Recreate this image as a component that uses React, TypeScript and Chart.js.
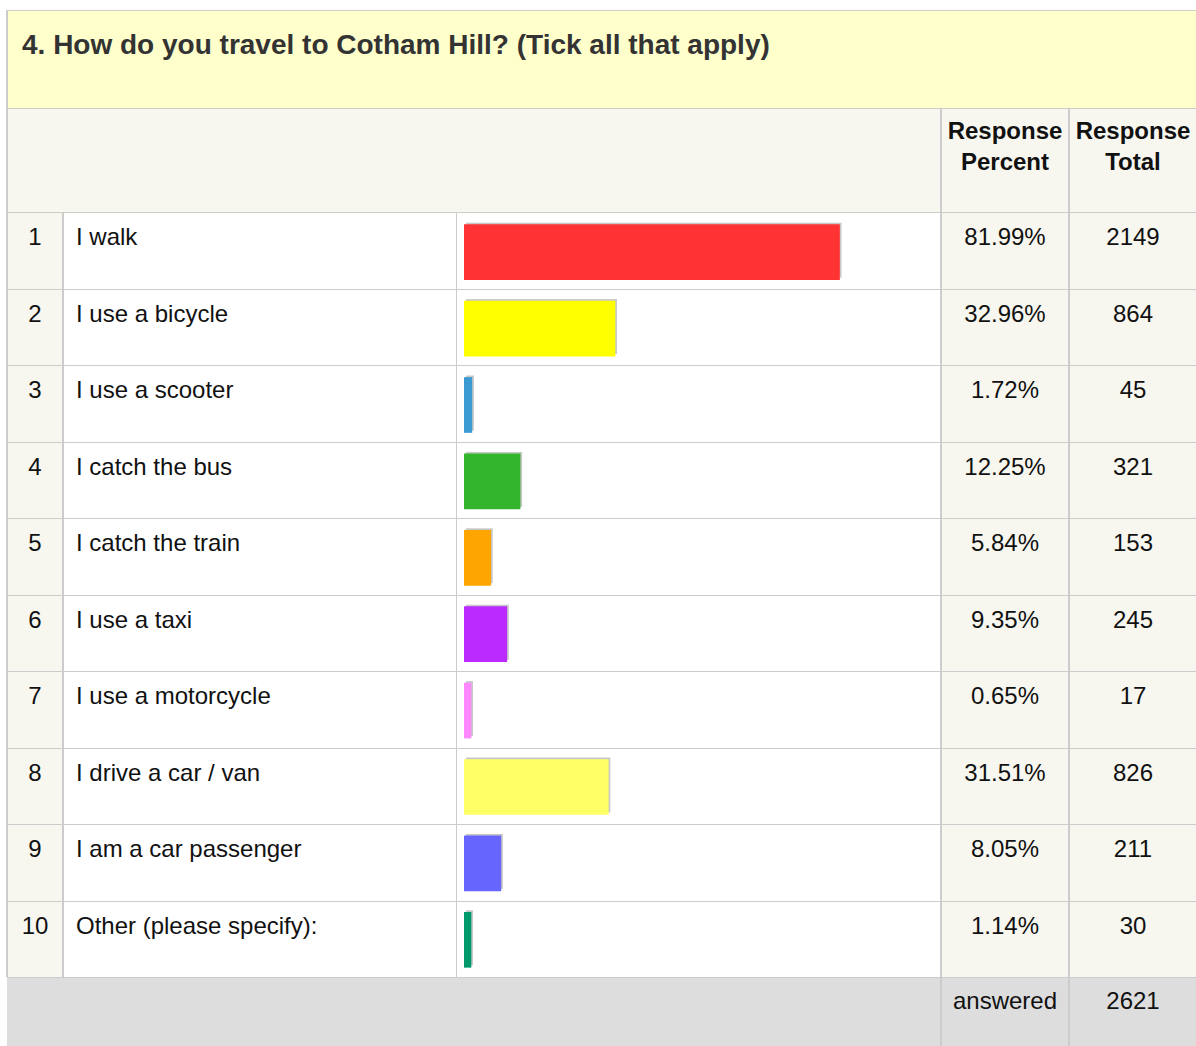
import React, { useEffect, useRef } from "react";
import { Chart, registerables } from "chart.js";

Chart.register(...registerables);

const titleText = "4. How do you travel to Cotham Hill? (Tick all that apply)";
const headerPercent = ["Response", "Percent"];
const headerTotal = ["Response", "Total"];
const categories = [
  "I walk",
  "I use a bicycle",
  "I use a scooter",
  "I catch the bus",
  "I catch the train",
  "I use a taxi",
  "I use a motorcycle",
  "I drive a car / van",
  "I am a car passenger",
  "Other (please specify):",
];
const responsePercent = [81.99, 32.96, 1.72, 12.25, 5.84, 9.35, 0.65, 31.51, 8.05, 1.14];
const responseTotal = [2149, 864, 45, 321, 153, 245, 17, 826, 211, 30];
const answeredLabel = "answered";
const answeredTotal = 2621;
const barColors = [
  "#FF3333",
  "#FFFF00",
  "#3A9BD2",
  "#33B52D",
  "#FFA500",
  "#BB2BFF",
  "#FF88FF",
  "#FFFF66",
  "#6666FF",
  "#00996B",
];

const FONT = '"Liberation Sans", Arial, Helvetica, sans-serif';
const LINE = "#CCCCCC";
const OFF = "#F7F7F0";

const ROW_TOP = 212;
const ROW_H = 76.5;
const rowTop = (i: number) => Math.round(ROW_TOP + i * ROW_H);
const TABLE_BOTTOM = rowTop(10);

const shadowPlugin = {
  id: "barShadow",
  beforeDatasetsDraw(chart: any) {
    const ctx = chart.ctx;
    const meta = chart.getDatasetMeta(0);
    ctx.save();
    ctx.fillStyle = "#C8C8C8";
    meta.data.forEach((el: any) => {
      const p = el.getProps(["x", "y", "base", "height"], true);
      ctx.fillRect(p.base + 2, p.y - p.height / 2 - 2, p.x - p.base, p.height);
    });
    ctx.restore();
  },
};

function Box(props: { l: number; t: number; w: number; h: number; bg: string }) {
  return (
    <div
      style={{
        position: "absolute",
        left: props.l,
        top: props.t,
        width: props.w,
        height: props.h,
        background: props.bg,
      }}
    />
  );
}

function Txt(props: {
  l: number;
  t: number;
  w?: number;
  align?: "left" | "center";
  bold?: boolean;
  size?: number;
  color?: string;
  lh?: string;
  children: React.ReactNode;
}) {
  return (
    <div
      style={{
        position: "absolute",
        left: props.l,
        top: props.t,
        width: props.w,
        textAlign: props.align || "left",
        fontFamily: FONT,
        fontWeight: props.bold ? "bold" : "normal",
        fontSize: props.size || 24,
        color: props.color || "#111",
        lineHeight: props.lh || "normal",
        whiteSpace: "nowrap",
      }}
    >
      {props.children}
    </div>
  );
}

export default function App() {
  const canvasRef = useRef<HTMLCanvasElement | null>(null);

  useEffect(() => {
    if (!canvasRef.current) return;
    const chart = new Chart(canvasRef.current, {
      type: "bar",
      data: {
        labels: categories,
        datasets: [
          {
            data: responsePercent,
            backgroundColor: barColors,
            borderWidth: 0,
            barThickness: 55,
            minBarLength: 7,
          },
        ],
      },
      options: {
        indexAxis: "y",
        responsive: false,
        animation: false,
        layout: { padding: { left: 7, right: 18, top: 0, bottom: 0 } },
        scales: {
          x: { display: false, min: 0, max: 100 },
          y: { display: false },
        },
        plugins: {
          legend: { display: false },
          tooltip: { enabled: false },
        },
      },
      plugins: [shadowPlugin],
    });
    return () => chart.destroy();
  }, []);

  const W = 1196;
  const H = 1046;

  return (
    <div
      style={{
        position: "fixed",
        left: 0,
        top: 0,
        width: W,
        height: H,
        overflow: "hidden",
        background: "#FFFFFF",
      }}
    >
      {/* title */}
      <Box l={6} t={10} w={W} h={1} bg={LINE} />
      <Box l={8} t={11} w={W} h={97} bg="#FFFFCC" />
      <Box l={8} t={108} w={W} h={1} bg={LINE} />
      {/* header */}
      <Box l={8} t={109} w={W} h={103} bg={OFF} />
      {/* rows background */}
      <Box l={8} t={ROW_TOP} w={54} h={TABLE_BOTTOM - ROW_TOP} bg={OFF} />
      <Box l={64} t={ROW_TOP} w={876} h={TABLE_BOTTOM - ROW_TOP} bg="#FFFFFF" />
      <Box l={942} t={ROW_TOP} w={W} h={TABLE_BOTTOM - ROW_TOP} bg={OFF} />
      {/* row lines */}
      {categories.map((_, i) => (
        <Box key={"hl" + i} l={8} t={rowTop(i)} w={W} h={1} bg={LINE} />
      ))}
      {/* footer */}
      <Box l={7} t={TABLE_BOTTOM} w={W} h={H} bg="#DDDDDD" />
      <Box l={7} t={TABLE_BOTTOM} w={W} h={1} bg={LINE} />
      {/* vertical lines */}
      <Box l={6} t={10} w={2} h={TABLE_BOTTOM - 10} bg={LINE} />
      <Box l={62} t={ROW_TOP} w={2} h={TABLE_BOTTOM - ROW_TOP} bg={LINE} />
      <Box l={456} t={ROW_TOP} w={1} h={TABLE_BOTTOM - ROW_TOP} bg={LINE} />
      <Box l={940} t={109} w={2} h={H} bg={LINE} />
      <Box l={1068} t={109} w={2} h={H} bg={LINE} />

      {/* title text */}
      <Txt l={22} t={29} bold size={28} color="#333333">
        {titleText}
      </Txt>

      {/* header texts */}
      <Txt l={942} t={115} w={126} align="center" bold size={24} lh="31px" color="#111">
        {headerPercent[0]}
        <br />
        {headerPercent[1]}
      </Txt>
      <Txt l={1070} t={115} w={126} align="center" bold size={24} lh="31px" color="#111">
        {headerTotal[0]}
        <br />
        {headerTotal[1]}
      </Txt>

      {/* row texts */}
      {categories.map((c, i) => (
        <React.Fragment key={"r" + i}>
          <Txt l={8} t={rowTop(i) + 11} w={54} align="center">
            {String(i + 1)}
          </Txt>
          <Txt l={76} t={rowTop(i) + 11}>
            {c}
          </Txt>
          <Txt l={942} t={rowTop(i) + 11} w={126} align="center">
            {responsePercent[i].toFixed(2) + "%"}
          </Txt>
          <Txt l={1070} t={rowTop(i) + 11} w={126} align="center">
            {String(responseTotal[i])}
          </Txt>
        </React.Fragment>
      ))}

      {/* footer texts */}
      <Txt l={942} t={TABLE_BOTTOM + 10} w={126} align="center">
        {answeredLabel}
      </Txt>
      <Txt l={1070} t={TABLE_BOTTOM + 10} w={126} align="center">
        {String(answeredTotal)}
      </Txt>

      {/* bars */}
      <canvas
        ref={canvasRef}
        width={483}
        height={764}
        style={{ position: "absolute", left: 457, top: 214, width: 483, height: 764 }}
      />
    </div>
  );
}
